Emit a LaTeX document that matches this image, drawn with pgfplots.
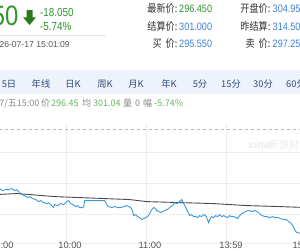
\documentclass[border=0pt]{standalone}
\usepackage{pgfplots}
\pgfplotsset{compat=1.18}
\usepackage{fontspec}
\setmainfont{Liberation Sans}
\newfontfamily\numA[FakeStretch=0.85]{Liberation Sans}
\newfontfamily\cjk{Noto Sans CJK SC}
\newfontfamily\cjkA[FakeStretch=0.85]{Noto Sans CJK SC}
\definecolor{upgreen}{HTML}{2E962E}
\definecolor{arrowgreen}{HTML}{2A7A1A}
\definecolor{valblue}{HTML}{3D82D2}
\definecolor{labgray}{HTML}{333333}
\definecolor{dategray}{HTML}{555555}
\definecolor{sepgray}{HTML}{E6E6E6}
\definecolor{tabbg}{HTML}{EEF3FB}
\definecolor{tabtxt}{HTML}{2F4E7E}
\definecolor{stgray}{HTML}{8A8A8A}
\definecolor{stgreen}{HTML}{62B862}
\definecolor{pline}{HTML}{3D98E0}
\definecolor{avgline}{HTML}{4A4A4A}
\definecolor{gridc}{HTML}{EDEDED}
\definecolor{prevc}{HTML}{BBBBBB}
\definecolor{wm}{HTML}{EBEBEB}
\definecolor{tickc}{HTML}{555555}

\pgfplotstableread{
m p
0 304.12
3.75 304.29
7.5 304.12
9.75 304.29
12 303.95
14.25 304.12
16.5 304.12
18.75 304.29
21 303.95
22.5 304.12
24 303.78
26.25 303.27
28.5 303.09
30.75 302.75
32.25 302.92
34.5 302.58
36.75 302.41
39 302.06
40.5 302.24
42.75 301.89
45 301.72
46.5 301.89
48.75 301.38
50.25 301.04
51 301.55
53.25 301.38
55.5 301.72
57.75 301.55
60 302.06
61.5 302.24
63 301.72
64.5 301.55
66.75 301.21
68.25 301.38
69.75 301.04
72 301.04
72.75 301.21
73.5 302.24
78.75 302.24
82.5 302.24
86.25 302.24
88.5 302.24
90 301.55
91.5 301.21
93.75 301.04
96 301.21
98.25 301.04
100.5 301.04
102.75 301.21
105 301.38
106.5 301.21
108 301.04
109.5 300.35
110.25 299.66
111.75 299.83
113.25 299.49
114.75 299.32
116.25 298.98
117.75 299.15
119.25 299.32
120.75 299.49
122.25 300.01
123.75 300.69
125.25 301.04
126.75 300.86
127.5 300.52
129 300.35
130.5 300.18
132 300.35
133.5 300.52
135 300.69
136.5 300.86
138 301.21
139.5 301.38
141 301.89
142.5 301.72
144 301.89
145.5 302.24
146.25 302.41
147 302.06
147.75 301.72
149.25 301.04
150 300.69
151.5 300.01
152.25 299.66
153.75 299.83
155.25 299.49
156.75 299.49
158.25 299.32
159.75 299.66
161.25 299.49
162.75 299.83
164.25 299.66
165 299.32
165.75 298.81
166.5 298.46
167.25 298.98
168.75 299.49
170.25 299.32
171.75 299.66
173.25 299.49
174.75 299.83
176.25 299.49
177.75 299.66
179.25 299.49
180.75 299.32
182.25 299.66
183.75 299.49
185.25 299.49
186.75 299.32
188.25 299.15
189.75 299.66
191.25 300.01
192.75 300.18
194.25 300.35
195.75 300.52
197.25 300.52
198.75 300.35
201 300.52
202.5 300.35
204 300.18
205.5 299.83
207 299.66
208.5 299.49
210 299.49
212.25 299.32
214.5 299.49
216 299.32
218.25 299.32
220.5 299.15
222.75 298.98
225 298.98
226.5 298.63
228 298.46
229.5 297.95
231 297.26
232.5 296.75
240 296.45
}\pricetable

\pgfplotstableread{
m p
0 303.44
7.5 303.27
22.5 303.44
32.25 303.27
51 302.92
69.75 302.75
107.25 302.41
120 302.06
144.75 301.89
170.25 301.72
195 301.38
219.75 301.21
232.5 301.10
240 301.04
}\avgtable

\begin{document}
\begin{tikzpicture}[x=1pt,y=1pt]
\path[use as bounding box] (0,0) rectangle (300,250);
\clip (0,0) rectangle (300,250);
\fill[white] (0,0) rectangle (300,250);

% ---- header: latest price
\node[anchor=base east, inner sep=0, text=upgreen, font=\numA\fontsize{28}{28}\selectfont] at (18.5,225) {296.450};
\fill[arrowgreen] (26.7,240) -- (32.5,240) -- (32.5,232.7) -- (36,232.7) -- (29.6,225) -- (23,232.7) -- (26.7,232.7) -- cycle;
\node[anchor=base west, inner sep=0, text=upgreen, font=\numA\fontsize{11.6}{12}\selectfont] at (40,234) {-18.050};
\node[anchor=base west, inner sep=0, text=upgreen, font=\numA\fontsize{11.6}{12}\selectfont] at (40,220) {-5.74\%};
\draw[sepgray, line width=0.8pt] (0,214.3) -- (106,214.3);
\node[anchor=base east, inner sep=0, text=dategray, font=\fontsize{8.6}{9}\selectfont] at (70,203) {2026-07-17 15:01:09};

% ---- info block
\begin{scope}[every node/.style={inner sep=0}]
\node[anchor=base east, text=labgray, font=\cjkA\fontsize{10.7}{11}\selectfont] at (177.5,238) {最新价:};
\node[anchor=base west, text=upgreen, font=\numA\fontsize{10.7}{11}\selectfont] at (179,238) {296.450};
\node[anchor=base east, text=labgray, font=\cjkA\fontsize{10.7}{11}\selectfont] at (177.5,220) {结算价:};
\node[anchor=base west, text=valblue, font=\numA\fontsize{10.7}{11}\selectfont] at (179,220) {301.000};
\node[anchor=base east, text=labgray, font=\cjkA\fontsize{10.7}{11}\selectfont] at (177.5,203) {买\ \ 价:};
\node[anchor=base west, text=valblue, font=\numA\fontsize{10.7}{11}\selectfont] at (179,203) {295.550};
\node[anchor=base east, text=labgray, font=\cjkA\fontsize{10.7}{11}\selectfont] at (270.5,238) {开盘价:};
\node[anchor=base west, text=valblue, font=\numA\fontsize{10.7}{11}\selectfont] at (272.5,238) {304.950};
\node[anchor=base east, text=labgray, font=\cjkA\fontsize{10.7}{11}\selectfont] at (270.5,220) {昨结算:};
\node[anchor=base west, text=valblue, font=\numA\fontsize{10.7}{11}\selectfont] at (272.5,220) {314.500};
\node[anchor=base east, text=labgray, font=\cjkA\fontsize{10.7}{11}\selectfont] at (270.5,203) {卖\ \ 价:};
\node[anchor=base west, text=valblue, font=\numA\fontsize{10.7}{11}\selectfont] at (272.5,203) {297.250};
\end{scope}

% ---- tab bar
\fill[tabbg] (0,156.5) rectangle (300,180);
\begin{scope}[every node/.style={inner sep=0, anchor=base, text=tabtxt, font=\cjk\fontsize{9.3}{10}\selectfont}]
\node at (9,163) {5日};
\node at (41,163) {年线};
\node at (73,163) {日K};
\node at (105,163) {周K};
\node at (136,163) {月K};
\node at (169,163) {年K};
\node at (200,163) {5分};
\node at (231,163) {15分};
\node at (263,163) {30分};
\node at (296,163) {60分};
\end{scope}

% ---- status line
\begin{scope}[every node/.style={inner sep=0, anchor=base west, font=\cjk\fontsize{9}{10}\selectfont}]
\node[anchor=base east, text=stgray] at (39.5,143.3) {07-17/五15:00};
\node[text=stgray] at (41,143.3) {价};
\node[text=stgreen] at (51,143.3) {296.45};
\node[text=stgray] at (82,143.3) {均};
\node[text=stgreen] at (93,143.3) {301.04};
\node[text=stgray] at (123,143.3) {量};
\node[text=stgray] at (135,143.3) {0};
\node[text=stgray] at (143,143.3) {幅};
\node[text=stgreen] at (154,143.3) {-5.74\%};
\end{scope}

% ---- watermark
\node[anchor=base west, inner sep=0, text=wm, font=\bfseries\itshape\fontsize{11}{11}\selectfont] at (248,102) {sina};
\node[anchor=base west, inner sep=0, text=wm, font=\cjk\fontsize{10}{10}\selectfont] at (269,102) {新浪财经};

% ---- chart
\begin{axis}[at={(-10,11)}, anchor=south west, scale only axis,
  width=320pt, height=121pt,
  xmin=0, xmax=240, ymin=294.86, ymax=315.61,
  axis line style={draw=none},
  xtick={60,120,180}, ytick={294.86,299.83,305.15,310.47},
  xticklabels={}, yticklabels={},
  major tick length=0pt,
  grid=major, major grid style={draw=gridc, line width=0.7pt},
  clip=true]
\addplot[prevc, line width=0.7pt, dash pattern=on 3pt off 3pt] coordinates {(0,314.5) (240,314.5)};
\addplot[avgline, line width=0.9pt] table[x=m,y=p] {\avgtable};
\addplot[pline, line width=0.9pt] table[x=m,y=p] {\pricetable};
\end{axis}

% ---- time labels
\begin{scope}[every node/.style={inner sep=0, text=tickc, font=\fontsize{9.3}{10}\selectfont}]
\node[anchor=base west] at (-10,1.7) {09:00};
\node[anchor=base] at (70,1.7) {10:00};
\node[anchor=base] at (150,1.7) {11:00};
\node[anchor=base] at (231,1.7) {13:59};
\node[anchor=base west] at (292.5,1.7) {15:00};
\end{scope}
\end{tikzpicture}
\end{document}
